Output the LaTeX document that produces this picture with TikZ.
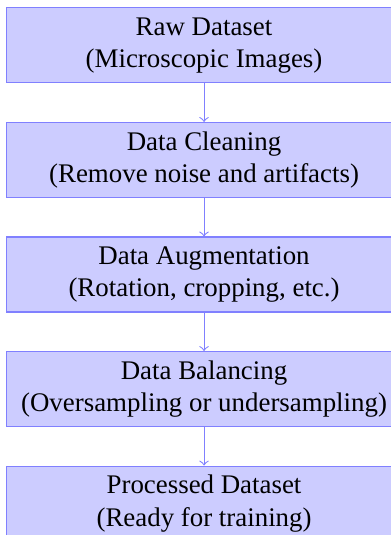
\documentclass[tikz,border=0pt]{standalone}
\usepackage{fontspec}
\setmainfont{Liberation Serif}
\usetikzlibrary{positioning}

\begin{document}
\begin{tikzpicture}[
    stage/.style={rectangle, draw=blue!50, fill=blue!20, align=center,
        font=\rmfamily, minimum width=147.3pt, minimum height=27.9pt},
    flow/.style={->, draw=blue!50}
]
    \useasboundingbox (0,0) rectangle (145.1pt,-199pt);

    % Stages
    \node[stage] (raw) at (75.9pt,-16.9pt) {Raw Dataset\\(Microscopic Images)};
    \node[stage, below=14.3pt of raw] (clean) {Data Cleaning\\(Remove noise and artifacts)};
    \node[stage, below=14.3pt of clean] (augment) {Data Augmentation\\(Rotation, cropping, etc.)};
    \node[stage, below=14.3pt of augment] (balance) {Data Balancing\\(Oversampling or undersampling)};
    \node[stage, below=14.3pt of balance] (processed) {Processed Dataset\\(Ready for training)};

    % Arrows
    \draw[flow] (raw) -- (clean);
    \draw[flow] (clean) -- (augment);
    \draw[flow] (augment) -- (balance);
    \draw[flow] (balance) -- (processed);

\end{tikzpicture}
\end{document}
